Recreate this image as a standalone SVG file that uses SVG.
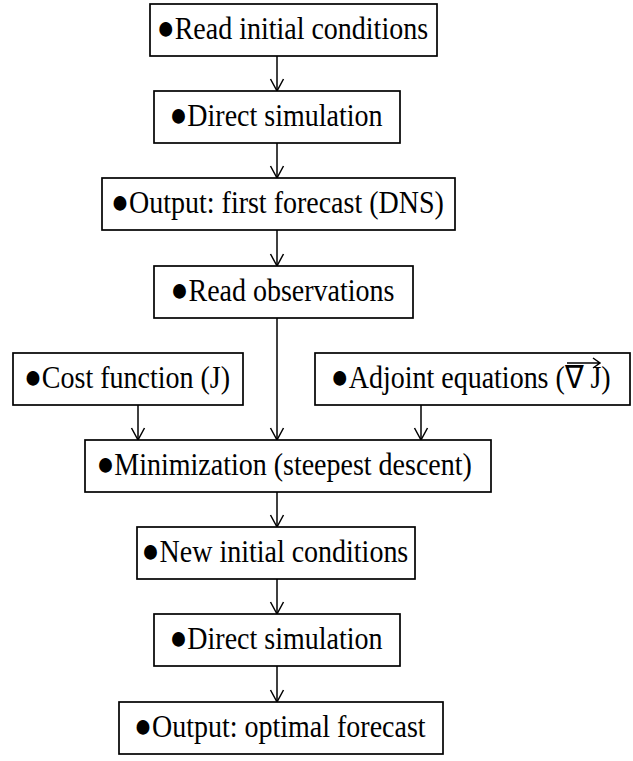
<svg xmlns="http://www.w3.org/2000/svg" width="633" height="761" viewBox="0 0 633 761">
<style>
.box{fill:#fff;stroke:#000;stroke-width:1.7}
.t{font-family:"Liberation Serif","Times New Roman",serif;font-size:32px;fill:#000}
.dot{font-size:34px}
.c{stroke:#000;stroke-width:1.5;fill:none}
</style>
<defs>
<marker id="ah" markerWidth="16" markerHeight="16" viewBox="-14 -8 16 16" refX="0" refY="0" orient="auto" markerUnits="userSpaceOnUse">
<path d="M-12,-6.5 L0,0 L-12,6.5" fill="none" stroke="#000" stroke-width="1.5"/>
</marker>
</defs>
<g id="connectors">
<line class="c" x1="277" y1="56" x2="277" y2="91" marker-end="url(#ah)"/>
<line class="c" x1="277" y1="143" x2="277" y2="178" marker-end="url(#ah)"/>
<line class="c" x1="277" y1="230" x2="277" y2="266" marker-end="url(#ah)"/>
<line class="c" x1="277" y1="318" x2="277" y2="440" marker-end="url(#ah)"/>
<line class="c" x1="138" y1="405" x2="138" y2="440" marker-end="url(#ah)"/>
<line class="c" x1="421" y1="405" x2="421" y2="440" marker-end="url(#ah)"/>
<line class="c" x1="277" y1="492" x2="277" y2="527" marker-end="url(#ah)"/>
<line class="c" x1="277" y1="579" x2="277" y2="614" marker-end="url(#ah)"/>
<line class="c" x1="277" y1="666" x2="277" y2="702" marker-end="url(#ah)"/>
</g>
<g id="n1"><rect class="box" x="150" y="4" width="287" height="52"/><text class="t" transform="translate(156.7,39) scale(0.875,1)"><tspan class="dot">●</tspan><tspan>Read initial conditions</tspan></text></g>
<g id="n2"><rect class="box" x="154" y="91" width="246" height="52"/><text class="t" transform="translate(169.4,126) scale(0.875,1)"><tspan class="dot">●</tspan><tspan>Direct simulation</tspan></text></g>
<g id="n3"><rect class="box" x="102" y="178" width="353" height="52"/><text class="t" transform="translate(111.1,213) scale(0.875,1)"><tspan class="dot">●</tspan><tspan>Output: first forecast (DNS)</tspan></text></g>
<g id="n4"><rect class="box" x="154" y="266" width="259" height="52"/><text class="t" transform="translate(170.5,301) scale(0.875,1)"><tspan class="dot">●</tspan><tspan>Read observations</tspan></text></g>
<g id="n5"><rect class="box" x="13" y="353" width="230" height="52"/><text class="t" transform="translate(23.9,388) scale(0.875,1)"><tspan class="dot">●</tspan><tspan>Cost function (J)</tspan></text></g>
<g id="n6"><rect class="box" x="315" y="353" width="315" height="52"/><text class="t" transform="translate(330.8,388) scale(0.875,1)"><tspan class="dot">●</tspan><tspan>Adjoint equations (∇ J)</tspan></text><path class="c" d="M567,363 L600,363 M593,358 L600,363 L593,368"/></g>
<g id="n7"><rect class="box" x="85" y="440" width="406" height="52"/><text class="t" transform="translate(96.4,475) scale(0.875,1)"><tspan class="dot">●</tspan><tspan>Minimization (steepest descent)</tspan></text></g>
<g id="n8"><rect class="box" x="137" y="527" width="278" height="52"/><text class="t" transform="translate(141.6,562) scale(0.875,1)"><tspan class="dot">●</tspan><tspan>New initial conditions</tspan></text></g>
<g id="n9"><rect class="box" x="154" y="614" width="246" height="52"/><text class="t" transform="translate(169.4,649) scale(0.875,1)"><tspan class="dot">●</tspan><tspan>Direct simulation</tspan></text></g>
<g id="n10"><rect class="box" x="119" y="702" width="324" height="52"/><text class="t" transform="translate(134.1,737) scale(0.875,1)"><tspan class="dot">●</tspan><tspan>Output: optimal forecast</tspan></text></g>
</svg>
